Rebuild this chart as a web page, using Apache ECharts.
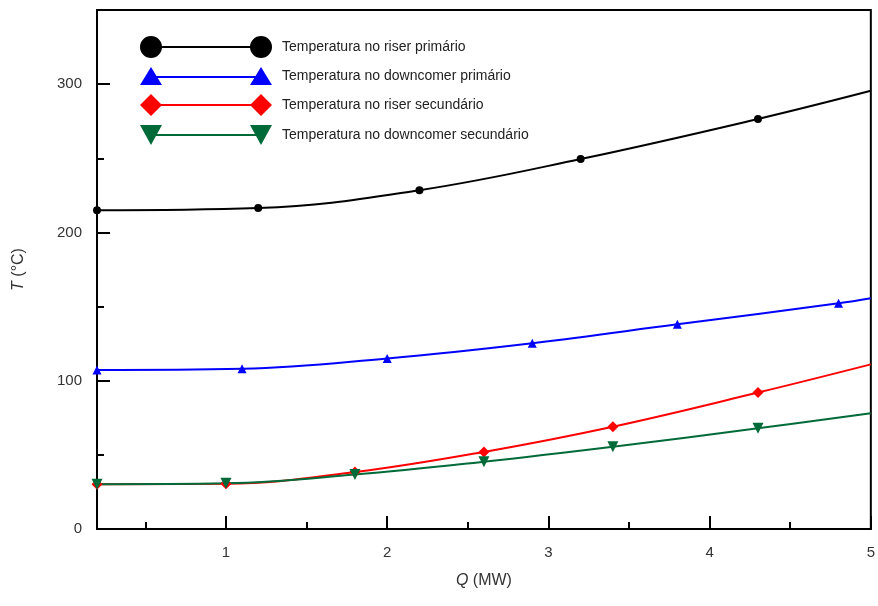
<!DOCTYPE html>
<html>
<head>
<meta charset="utf-8">
<script src="https://cdn.jsdelivr.net/npm/echarts@6/dist/echarts.min.js"></script>
<style>html,body{margin:0;padding:0;background:#fff}#c{width:878px;height:606px}</style>
</head>
<body>
<div id="c"></div>
<script>
// Data
var qRiserPrim = [0.2, 1.2, 2.2, 3.2, 4.3, 5.0];
var tRiserPrim = [215, 216.5, 228.5, 249.5, 276.5, 295.5];
var qDownPrim = [0.2, 1.1, 2.0, 2.9, 3.8, 4.8, 5.0];
var tDownPrim = [107.2, 108, 115, 125.3, 138, 152.2, 155.6];
var qRiserSec = [0.2, 1.0, 1.8, 2.6, 3.4, 4.3, 5.0];
var tRiserSec = [30.2, 30.5, 38.4, 52, 69, 92, 111];
var qDownSec = [0.2, 1.0, 1.8, 2.6, 3.4, 4.3, 5.0];
var tDownSec = [30.2, 30.8, 36.7, 45.4, 55.5, 67.9, 78];
var seriesNames = ['Temperatura no riser primário', 'Temperatura no downcomer primário', 'Temperatura no riser secundário', 'Temperatura no downcomer secundário'];
var xMajorTicks = [1, 2, 3, 4, 5];
var xMinorTicks = [0.5, 1.5, 2.5, 3.5, 4.5];
var yMajorTicks = [0, 100, 200, 300];
var yMinorTicks = [50, 150, 250];

function pts(xs, ys) {
  return xs.map(function (x, i) {
    var d = { value: [x, ys[i]] };
    if (i === xs.length - 1) d.symbol = 'none';
    return d;
  });
}

var icons = [
  'path://M0,11A11,11,0,1,1,22,11A11,11,0,1,1,0,11ZM21,10L111,10L111,12L21,12ZM110,11A11,11,0,1,1,132,11A11,11,0,1,1,110,11Z',
  'path://M0,18L11,0L22,18ZM16,9L116,9L116,11L16,11ZM110,18L121,0L132,18Z',
  'path://M0,11L11,0L22,11L11,22ZM21,10L111,10L111,12L21,12ZM110,11L121,0L132,11L121,22Z',
  'path://M0,0L22,0L11,20ZM16,9L116,9L116,11L16,11ZM110,0L132,0L121,20Z'
];
var colors = ['#000000', '#0000ff', '#ff0000', '#006a38'];

var font = 'Liberation Sans, Arial, sans-serif';
var chart = echarts.init(document.getElementById('c'));
var tickStyle = { color: '#000', width: 2 };
chart.setOption({
  animation: false,
  grid: { left: 97, right: 6, top: 10, bottom: 77, show: true, borderColor: '#000', borderWidth: 2, backgroundColor: 'transparent' },
  legend: {
    orient: 'vertical', left: 135, top: 31, itemWidth: 132, itemHeight: 22, itemGap: 9,
    symbolKeepAspect: true,
    itemStyle: { borderWidth: 0 },
    textStyle: { fontFamily: font, fontSize: 14, color: '#222', padding: [0, 0, 0, 5] },
    data: seriesNames.map(function (n, i) { return { name: n, icon: icons[i] }; })
  },
  xAxis: [{
    type: 'value', min: 0.2, max: 5,
    axisLine: { show: true, lineStyle: { color: '#000', width: 2 } },
    axisTick: { show: true, inside: true, length: 13, lineStyle: tickStyle, customValues: xMajorTicks },
    axisLabel: { customValues: xMajorTicks, margin: 16, fontFamily: font, fontSize: 15, color: '#333' },
    splitLine: { show: false },
    name: '{i|Q} (MW)', nameLocation: 'middle', nameGap: 44,
    nameTextStyle: { fontFamily: font, fontSize: 16, color: '#333', rich: { i: { fontFamily: font, fontSize: 16, fontStyle: 'italic', color: '#333' } } }
  }, {
    type: 'value', min: 0.2, max: 5, position: 'bottom',
    axisLine: { show: false },
    axisTick: { show: true, inside: true, length: 7, lineStyle: tickStyle, customValues: xMinorTicks },
    axisLabel: { show: false }, splitLine: { show: false }
  }],
  yAxis: [{
    type: 'value', min: 0, max: 350,
    axisLine: { show: true, lineStyle: { color: '#000', width: 2 } },
    axisTick: { show: true, inside: true, length: 13, lineStyle: tickStyle, customValues: yMajorTicks },
    axisLabel: { customValues: yMajorTicks, margin: 15, fontFamily: font, fontSize: 15, color: '#333' },
    splitLine: { show: false },
    name: '{i|T} (°C)', nameLocation: 'middle', nameGap: 70,
    nameTextStyle: { fontFamily: font, fontSize: 16, color: '#333', rich: { i: { fontFamily: font, fontSize: 16, fontStyle: 'italic', color: '#333' } } }
  }, {
    type: 'value', min: 0, max: 350, position: 'left',
    axisLine: { show: false },
    axisTick: { show: true, inside: true, length: 7, lineStyle: tickStyle, customValues: yMinorTicks },
    axisLabel: { show: false }, splitLine: { show: false }
  }],
  series: [
    { name: seriesNames[0], type: 'line', smooth: 0.4, data: pts(qRiserPrim, tRiserPrim), symbol: 'circle', symbolSize: 8,
      itemStyle: { color: colors[0], borderWidth: 0 }, lineStyle: { color: colors[0], width: 2 } },
    { name: seriesNames[1], type: 'line', smooth: 0.4, data: pts(qDownPrim, tDownPrim), symbol: 'triangle', symbolSize: 9,
      itemStyle: { color: colors[1], borderWidth: 0 }, lineStyle: { color: colors[1], width: 2 } },
    { name: seriesNames[2], type: 'line', smooth: 0.4, data: pts(qRiserSec, tRiserSec), symbol: 'diamond', symbolSize: 11,
      itemStyle: { color: colors[2], borderWidth: 0 }, lineStyle: { color: colors[2], width: 2 } },
    { name: seriesNames[3], type: 'line', smooth: 0.4, data: pts(qDownSec, tDownSec), symbol: 'triangle', symbolRotate: 180, symbolSize: 11,
      itemStyle: { color: colors[3], borderWidth: 0 }, lineStyle: { color: colors[3], width: 2 } }
  ]
});
</script>
</body>
</html>
